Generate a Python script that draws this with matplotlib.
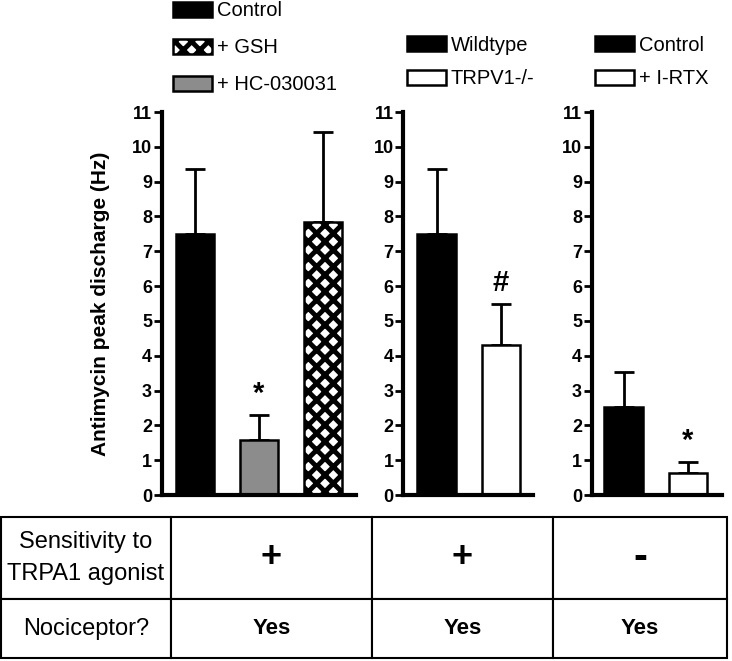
import matplotlib
matplotlib.use("Agg")
import matplotlib.pyplot as plt
import numpy as np

plt.rcParams['font.family'] = ['Liberation Sans', 'DejaVu Sans']
plt.rcParams['hatch.linewidth'] = 3.5

# panel 1: Control / + HC-030031 / + GSH (bars drawn in this order)
a_labels = ['Control', '+ HC-030031', '+ GSH']
a_means = [7.5, 1.58, 7.84]
a_sem = [1.86, 0.72, 2.58]
a_marks = ['', '*', '']
a_legend_order = [0, 2, 1]

# panel 2: Wildtype vs TRPV1 knockout
b_labels = ['Wildtype', 'TRPV1-/-']
b_means = [7.5, 4.31]
b_sem = [1.86, 1.17]
b_marks = ['', '#']

# panel 3: Control vs + I-RTX
c_labels = ['Control', '+ I-RTX']
c_means = [2.54, 0.62]
c_sem = [0.99, 0.34]
c_marks = ['', '*']

# table under the bars
row_names = ['Sensitivity to\nTRPA1 agonist', 'Nociceptor?']
trpa1_sensitivity = ['+', '+', '-']
nociceptor = ['Yes', 'Yes', 'Yes']

GREY = '#8c8c8c'


def draw_panel(ax, means, sem, marks, colors, hatches, xlim):
    x = np.arange(len(means))
    bars = ax.bar(x, means, width=0.6, color=colors, edgecolor='black',
                  linewidth=1.8, zorder=2)
    for b, h in zip(bars, hatches):
        if h:
            b.set_hatch(h)
    ax.errorbar(x, means, yerr=[np.zeros(len(means)), sem], fmt='none',
                ecolor='black', elinewidth=2, capsize=7.5, capthick=2,
                zorder=1)
    for xi, m, s, t in zip(x, means, sem, marks):
        if t:
            ax.text(xi, m + s + 0.6, t, ha='center', va='center',
                    fontsize=21, fontweight='bold')
    ax.set_xlim(*xlim)
    ax.set_ylim(0, 11)
    ax.set_yticks(range(0, 12))
    ax.set_xticks([])
    ax.spines['top'].set_visible(False)
    ax.spines['right'].set_visible(False)
    ax.spines['left'].set_linewidth(3)
    ax.spines['bottom'].set_linewidth(3)
    ax.tick_params(axis='y', length=6, width=2, pad=1, labelsize=13)
    for lbl in ax.get_yticklabels():
        lbl.set_fontweight('bold')
    return bars


def add_legend(ax, handles, labels, pos, spacing):
    ax.legend(handles, labels, loc='upper left', bbox_to_anchor=pos,
              bbox_transform=ax.figure.transFigure, frameon=False,
              fontsize=14.5, handlelength=1.94, handleheight=0.75,
              handletextpad=0.25, labelspacing=spacing, borderpad=0,
              borderaxespad=0)


fig = plt.figure(figsize=(7.32, 6.61), dpi=100)

ax_a = fig.add_axes([0.2209, 0.2511, 0.2654, 0.5794])
ax_b = fig.add_axes([0.5510, 0.2511, 0.1772, 0.5794])
ax_c = fig.add_axes([0.8083, 0.2511, 0.1776, 0.5794])

bars_a = draw_panel(ax_a, a_means, a_sem, a_marks,
                    ['black', GREY, 'white'], ['', '', 'xx'], (-0.52, 2.52))
bars_b = draw_panel(ax_b, b_means, b_sem, b_marks,
                    ['black', 'white'], ['', ''], (-0.52, 1.5))
bars_c = draw_panel(ax_c, c_means, c_sem, c_marks,
                    ['black', 'white'], ['', ''], (-0.5, 1.53))

ax_a.set_ylabel('Antimycin peak discharge (Hz)', fontsize=15,
                fontweight='bold')
ax_a.yaxis.set_label_coords(-0.268, 0.5)

add_legend(ax_a, [bars_a[i] for i in a_legend_order],
           [a_labels[i] for i in a_legend_order], (0.236, 0.998), 0.89)
add_legend(ax_b, list(bars_b), b_labels, (0.5556, 0.946), 0.72)
add_legend(ax_c, list(bars_c), c_labels, (0.8128, 0.946), 0.72)

# table
ax_t = fig.add_axes([0, 0, 1, 1])
ax_t.axis('off')
cell_text = [[row_names[0]] + trpa1_sensitivity,
             [row_names[1]] + nociceptor]
col_w = np.array([170, 201, 181, 174]) / 732
tbl = ax_t.table(cellText=cell_text, colWidths=col_w, cellLoc='center',
                 bbox=[1 / 732, 3 / 661, 726 / 732, 141 / 661])
tbl.auto_set_font_size(False)
for (r, c), cell in tbl.get_celld().items():
    cell.set_linewidth(1.5)
    cell.set_height(82 if r == 0 else 59)
    txt = cell.get_text()
    if c == 0:
        txt.set_fontsize(17)
        txt.set_linespacing(1.55)
    elif r == 0:
        s = txt.get_text()
        txt.set_fontsize(26 if s == '+' else 30)
        txt.set_fontweight('bold')
    else:
        txt.set_fontsize(16)
        txt.set_fontweight('bold')

fig.savefig('out.png', dpi=100)
